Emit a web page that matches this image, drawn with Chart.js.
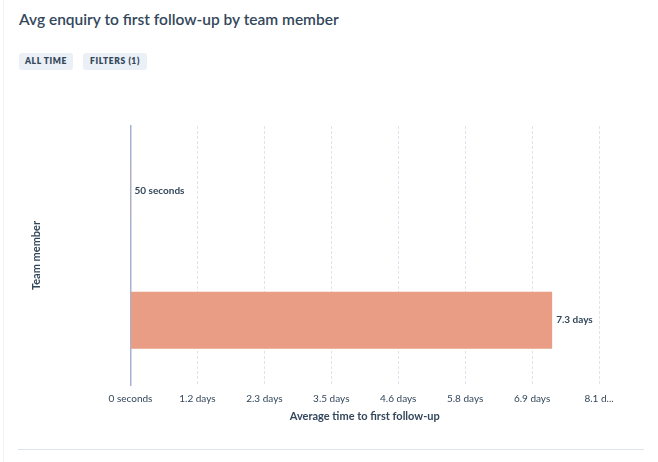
<!DOCTYPE html>
<html lang="en">
<head>
<meta charset="UTF-8">
<title>Avg enquiry to first follow-up by team member</title>
<script src="https://cdn.jsdelivr.net/npm/chart.js"></script>
<style>
    body {
        margin: 0;
        width: 658px;
        height: 462px;
        background: #fff;
        font-family: 'Lato', sans-serif;
        color: #33475b;
        position: relative;
        overflow: hidden;
    }
    .card-edge {
        position: absolute;
        left: 3px;
        top: 0;
        width: 1px;
        height: 462px;
        background: #f0f2f5;
    }
    h1 {
        position: absolute;
        left: 19px;
        top: 10px;
        margin: 0;
        font-size: 15.5px;
        font-weight: 600;
        color: #33475b;
    }
    .badge {
        position: absolute;
        top: 53px;
        height: 17px;
        line-height: 17px;
        background: #eaf0f6;
        border-radius: 3px;
        font-size: 8.5px;
        font-weight: 800;
        letter-spacing: 0.6px;
        text-align: center;
        color: #33475b;
    }
    .rule {
        position: absolute;
        left: 18px;
        top: 449px;
        width: 626px;
        height: 1px;
        background: #dfe3eb;
    }
    #wrap {
        position: absolute;
        left: 14px;
        top: 100px;
        width: 631px;
        height: 335px;
    }
</style>
</head>
<body>
<div class="card-edge"></div>
<h1>Avg enquiry to first follow-up by team member</h1>
<div class="badge" style="left:19px;width:54px;">ALL TIME</div>
<div class="badge" style="left:83px;width:64px;">FILTERS (1)</div>
<div id="wrap"><canvas id="myBarGraph"></canvas></div>
<div class="rule"></div>

<script>
// data
var members = ['Team member A', 'Team member B'];
var avgSeconds = [50, 630000];
var valueLabels = ['50 seconds', '7.3 days'];
var tickLabels = ['0 seconds', '1.2 days', '2.3 days', '3.5 days', '4.6 days', '5.8 days', '6.9 days', '8.1 d...'];

var textColor = '#33475b';

// draws the value text just right of each bar
var valueLabelPlugin = {
    id: 'valueLabels',
    afterDatasetsDraw: function (chart) {
        var ctx = chart.ctx;
        var meta = chart.getDatasetMeta(0);
        ctx.save();
        ctx.font = 'bold 10px Lato';
        ctx.fillStyle = textColor;
        ctx.textAlign = 'left';
        ctx.textBaseline = 'middle';
        meta.data.forEach(function (bar, i) {
            ctx.fillText(valueLabels[i], bar.x + 4, bar.y);
        });
        ctx.restore();
    }
};

var ctx = document.getElementById('myBarGraph').getContext('2d');
var myBarGraph = new Chart(ctx, {
    type: 'bar',
    data: {
        labels: members,
        datasets: [{
            data: avgSeconds,
            backgroundColor: '#ea9d85',
            barPercentage: 0.55,
            categoryPercentage: 0.8
        }]
    },
    options: {
        indexAxis: 'y',
        responsive: true,
        maintainAspectRatio: false,
        animation: false,
        layout: {
            padding: { top: 26, right: 46, left: 12, bottom: 8 }
        },
        plugins: {
            legend: { display: false },
            tooltip: { enabled: false }
        },
        scales: {
            x: {
                min: 0,
                max: 700000,
                ticks: {
                    stepSize: 100000,
                    color: textColor,
                    font: { family: 'Lato', size: 10 },
                    padding: 8,
                    maxRotation: 0,
                    autoSkip: false,
                    callback: function (value, index) {
                        return tickLabels[index];
                    }
                },
                grid: {
                    color: '#dfe3ee',
                    drawTicks: false
                },
                border: {
                    display: false,
                    dash: [3, 2]
                },
                title: {
                    display: true,
                    text: 'Average time to first follow-up',
                    color: textColor,
                    font: { family: 'Lato', size: 11, weight: 'bold' },
                    padding: { top: 4 }
                },
                afterFit: function (scale) {
                    scale.height = 42;
                }
            },
            y: {
                ticks: { display: false },
                grid: { display: false },
                border: {
                    display: true,
                    color: '#a3b3d1',
                    width: 1.5
                },
                title: {
                    display: true,
                    text: 'Team member',
                    color: textColor,
                    font: { family: 'Lato', size: 11, weight: 'bold' }
                },
                afterFit: function (scale) {
                    scale.width = 104.5;
                }
            }
        }
    },
    plugins: [valueLabelPlugin]
});
</script>
</body>
</html>
